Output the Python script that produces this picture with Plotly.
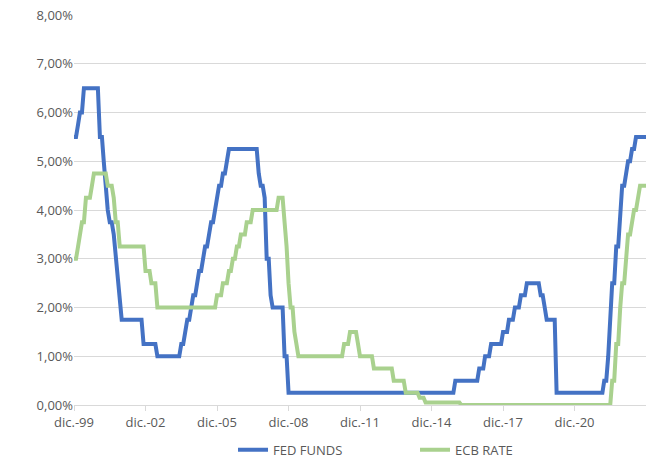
import pandas as pd
import plotly.graph_objects as go

# Monthly dates: Dec 1999 .. Dec 2023
dates = pd.date_range("1999-12-01", "2023-12-01", freq="MS")

# FED FUNDS target rate (upper bound), % end of month, one row per year
fed_dec99 = [5.5]
fed_by_year = [
    [5.5, 5.75, 6.0, 6.0, 6.5, 6.5, 6.5, 6.5, 6.5, 6.5, 6.5, 6.5],            # 2000
    [5.5, 5.5, 5.0, 4.5, 4.0, 3.75, 3.75, 3.5, 3.0, 2.5, 2.0, 1.75],          # 2001
    [1.75, 1.75, 1.75, 1.75, 1.75, 1.75, 1.75, 1.75, 1.75, 1.75, 1.25, 1.25], # 2002
    [1.25, 1.25, 1.25, 1.25, 1.25, 1.0, 1.0, 1.0, 1.0, 1.0, 1.0, 1.0],        # 2003
    [1.0, 1.0, 1.0, 1.0, 1.0, 1.25, 1.25, 1.5, 1.75, 1.75, 2.0, 2.25],        # 2004
    [2.25, 2.5, 2.75, 2.75, 3.0, 3.25, 3.25, 3.5, 3.75, 3.75, 4.0, 4.25],     # 2005
    [4.5, 4.5, 4.75, 4.75, 5.0, 5.25, 5.25, 5.25, 5.25, 5.25, 5.25, 5.25],    # 2006
    [5.25, 5.25, 5.25, 5.25, 5.25, 5.25, 5.25, 5.25, 4.75, 4.5, 4.5, 4.25],   # 2007
    [3.0, 3.0, 2.25, 2.0, 2.0, 2.0, 2.0, 2.0, 2.0, 1.0, 1.0, 0.25],           # 2008
    [0.25, 0.25, 0.25, 0.25, 0.25, 0.25, 0.25, 0.25, 0.25, 0.25, 0.25, 0.25], # 2009
    [0.25, 0.25, 0.25, 0.25, 0.25, 0.25, 0.25, 0.25, 0.25, 0.25, 0.25, 0.25], # 2010
    [0.25, 0.25, 0.25, 0.25, 0.25, 0.25, 0.25, 0.25, 0.25, 0.25, 0.25, 0.25], # 2011
    [0.25, 0.25, 0.25, 0.25, 0.25, 0.25, 0.25, 0.25, 0.25, 0.25, 0.25, 0.25], # 2012
    [0.25, 0.25, 0.25, 0.25, 0.25, 0.25, 0.25, 0.25, 0.25, 0.25, 0.25, 0.25], # 2013
    [0.25, 0.25, 0.25, 0.25, 0.25, 0.25, 0.25, 0.25, 0.25, 0.25, 0.25, 0.25], # 2014
    [0.25, 0.25, 0.25, 0.25, 0.25, 0.25, 0.25, 0.25, 0.25, 0.25, 0.25, 0.5],  # 2015
    [0.5, 0.5, 0.5, 0.5, 0.5, 0.5, 0.5, 0.5, 0.5, 0.5, 0.5, 0.75],            # 2016
    [0.75, 0.75, 1.0, 1.0, 1.0, 1.25, 1.25, 1.25, 1.25, 1.25, 1.25, 1.5],     # 2017
    [1.5, 1.5, 1.75, 1.75, 1.75, 2.0, 2.0, 2.0, 2.25, 2.25, 2.25, 2.5],       # 2018
    [2.5, 2.5, 2.5, 2.5, 2.5, 2.5, 2.25, 2.25, 2.0, 1.75, 1.75, 1.75],        # 2019
    [1.75, 1.75, 0.25, 0.25, 0.25, 0.25, 0.25, 0.25, 0.25, 0.25, 0.25, 0.25], # 2020
    [0.25, 0.25, 0.25, 0.25, 0.25, 0.25, 0.25, 0.25, 0.25, 0.25, 0.25, 0.25], # 2021
    [0.25, 0.25, 0.5, 0.5, 1.0, 1.75, 2.5, 2.5, 3.25, 3.25, 4.0, 4.5],        # 2022
    [4.5, 4.75, 5.0, 5.0, 5.25, 5.25, 5.5, 5.5, 5.5, 5.5, 5.5, 5.5],          # 2023
]

# ECB main refinancing rate, % end of month, one row per year
ecb_dec99 = [3.0]
ecb_by_year = [
    [3.0, 3.25, 3.5, 3.75, 3.75, 4.25, 4.25, 4.25, 4.5, 4.75, 4.75, 4.75],    # 2000
    [4.75, 4.75, 4.75, 4.75, 4.5, 4.5, 4.5, 4.25, 3.75, 3.75, 3.25, 3.25],    # 2001
    [3.25, 3.25, 3.25, 3.25, 3.25, 3.25, 3.25, 3.25, 3.25, 3.25, 3.25, 2.75], # 2002
    [2.75, 2.75, 2.5, 2.5, 2.5, 2.0, 2.0, 2.0, 2.0, 2.0, 2.0, 2.0],           # 2003
    [2.0, 2.0, 2.0, 2.0, 2.0, 2.0, 2.0, 2.0, 2.0, 2.0, 2.0, 2.0],             # 2004
    [2.0, 2.0, 2.0, 2.0, 2.0, 2.0, 2.0, 2.0, 2.0, 2.0, 2.0, 2.25],            # 2005
    [2.25, 2.25, 2.5, 2.5, 2.5, 2.75, 2.75, 3.0, 3.0, 3.25, 3.25, 3.5],       # 2006
    [3.5, 3.5, 3.75, 3.75, 3.75, 4.0, 4.0, 4.0, 4.0, 4.0, 4.0, 4.0],          # 2007
    [4.0, 4.0, 4.0, 4.0, 4.0, 4.0, 4.25, 4.25, 4.25, 3.75, 3.25, 2.5],        # 2008
    [2.0, 2.0, 1.5, 1.25, 1.0, 1.0, 1.0, 1.0, 1.0, 1.0, 1.0, 1.0],            # 2009
    [1.0, 1.0, 1.0, 1.0, 1.0, 1.0, 1.0, 1.0, 1.0, 1.0, 1.0, 1.0],             # 2010
    [1.0, 1.0, 1.0, 1.25, 1.25, 1.25, 1.5, 1.5, 1.5, 1.5, 1.25, 1.0],         # 2011
    [1.0, 1.0, 1.0, 1.0, 1.0, 1.0, 0.75, 0.75, 0.75, 0.75, 0.75, 0.75],       # 2012
    [0.75, 0.75, 0.75, 0.75, 0.5, 0.5, 0.5, 0.5, 0.5, 0.5, 0.25, 0.25],       # 2013
    [0.25, 0.25, 0.25, 0.25, 0.25, 0.15, 0.15, 0.15, 0.05, 0.05, 0.05, 0.05], # 2014
    [0.05, 0.05, 0.05, 0.05, 0.05, 0.05, 0.05, 0.05, 0.05, 0.05, 0.05, 0.05], # 2015
    [0.05, 0.05, 0.0, 0.0, 0.0, 0.0, 0.0, 0.0, 0.0, 0.0, 0.0, 0.0],           # 2016
    [0.0, 0.0, 0.0, 0.0, 0.0, 0.0, 0.0, 0.0, 0.0, 0.0, 0.0, 0.0],             # 2017
    [0.0, 0.0, 0.0, 0.0, 0.0, 0.0, 0.0, 0.0, 0.0, 0.0, 0.0, 0.0],             # 2018
    [0.0, 0.0, 0.0, 0.0, 0.0, 0.0, 0.0, 0.0, 0.0, 0.0, 0.0, 0.0],             # 2019
    [0.0, 0.0, 0.0, 0.0, 0.0, 0.0, 0.0, 0.0, 0.0, 0.0, 0.0, 0.0],             # 2020
    [0.0, 0.0, 0.0, 0.0, 0.0, 0.0, 0.0, 0.0, 0.0, 0.0, 0.0, 0.0],             # 2021
    [0.0, 0.0, 0.0, 0.0, 0.0, 0.0, 0.5, 0.5, 1.25, 1.25, 2.0, 2.5],           # 2022
    [2.5, 3.0, 3.5, 3.5, 3.75, 4.0, 4.0, 4.25, 4.5, 4.5, 4.5, 4.5],           # 2023
]

for row in fed_by_year + ecb_by_year:
    assert len(row) == 12, row
fed_funds = fed_dec99 + [v for row in fed_by_year for v in row]
ecb_rate = ecb_dec99 + [v for row in ecb_by_year for v in row]
assert len(fed_funds) == len(dates) == len(ecb_rate)

tick_dates = ["1999-12-01", "2002-12-01", "2005-12-01", "2008-12-01",
              "2011-12-01", "2014-12-01", "2017-12-01", "2020-12-01"]
tick_labels = ["dic.-99", "dic.-02", "dic.-05", "dic.-08",
               "dic.-11", "dic.-14", "dic.-17", "dic.-20"]
y_ticks = [0, 1, 2, 3, 4, 5, 6, 7, 8]
y_labels = ["0,00%", "1,00%", "2,00%", "3,00%", "4,00%", "5,00%", "6,00%", "7,00%", "8,00%"]

FONT = "Open Sans"
TXT = "#595959"
GRID = "#d9d9d9"

fig = go.Figure()
fig.add_trace(go.Scatter(x=dates, y=fed_funds, mode="lines", name="FED FUNDS",
                         line=dict(color="#4472C4", width=4)))
fig.add_trace(go.Scatter(x=dates, y=ecb_rate, mode="lines", name="ECB RATE",
                         line=dict(color="#A9D18E", width=4)))

fig.update_layout(
    width=652, height=460,
    margin=dict(l=74, r=6, t=15, b=55, autoexpand=False),
    paper_bgcolor="white", plot_bgcolor="white",
    font=dict(family=FONT, size=13, color=TXT),
    showlegend=True,
    legend=dict(orientation="h", x=0.278, xanchor="left", y=-0.115, yanchor="middle",
                font=dict(family=FONT, size=13, color=TXT), traceorder="normal",
                entrywidth=137, entrywidthmode="pixels"),
)
fig.update_xaxes(
    type="date", range=[dates[0], dates[-1]], automargin=False,
    tickvals=tick_dates, ticktext=tick_labels,
    showgrid=False, showline=True, linecolor=GRID, linewidth=1,
    ticks="outside", ticklen=5, tickcolor=GRID,
    tickfont=dict(family=FONT, size=13, color=TXT),
    zeroline=False,
)
fig.update_yaxes(
    range=[0, 8], tickvals=y_ticks, ticktext=y_labels, automargin=False,
    showgrid=True, gridcolor=GRID, gridwidth=1,
    zeroline=False, showline=False, ticks="",
    tickfont=dict(family=FONT, size=13, color=TXT),
)

fig.write_html("out.html", config={"displayModeBar": False},
               post_script="document.body.style.margin='0';")
